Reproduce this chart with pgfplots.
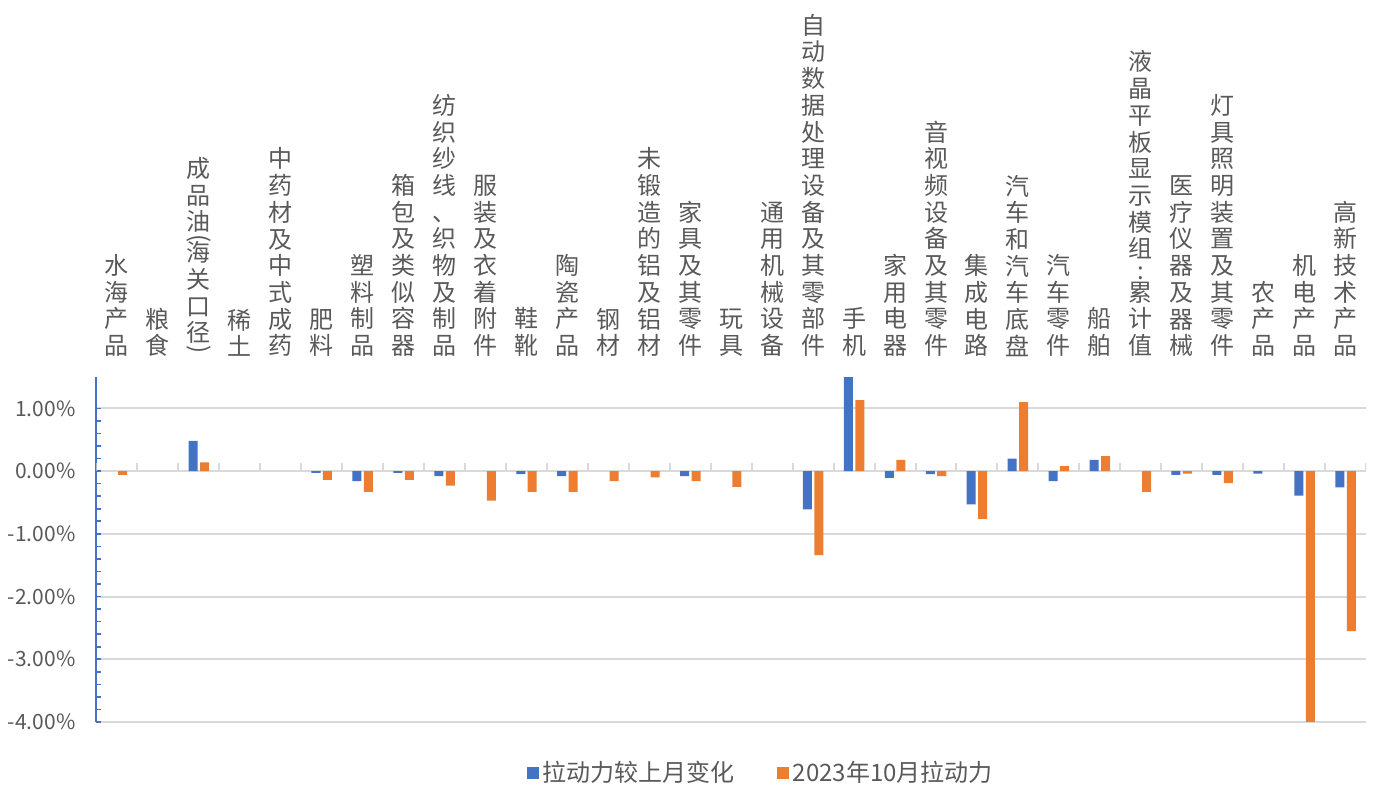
\documentclass[border=0pt]{standalone}
\usepackage{fontspec}
\setmainfont{Noto Sans CJK SC}
\usepackage{graphicx}
\usepackage{pgfplots}
\pgfplotsset{compat=1.18}
\definecolor{cblue}{HTML}{4472C4}
\definecolor{corange}{HTML}{ED7D31}
\definecolor{tgray}{HTML}{595959}
\definecolor{ggray}{HTML}{D9D9D9}
\newcommand{\lp}{\rotatebox[origin=c]{-90}{(}}
\newcommand{\rp}{\rotatebox[origin=c]{-90}{)}}
\begin{document}
\begin{tikzpicture}
\begin{axis}[
  name=ax,
  scale only axis,
  width=634.75pt, height=172.5pt,
  xmin=-0.5, xmax=30.5,
  ymin=-4, ymax=1.5,
  axis x line*=top,
  axis y line*=left,
  x axis line style={draw=none},
  y axis line style={draw=cblue, line width=1pt},
  xtick={0,...,30},
  xtick style={draw=none},
  xticklabels={
    {水\\海\\产\\品},
    {粮\\食},
    {成\\品\\油\\[-5.6pt]\lp\\[-5.6pt]海\\关\\口\\径\\[-6pt]\rp},
    {稀\\土},
    {中\\药\\材\\及\\中\\式\\成\\药},
    {肥\\料},
    {塑\\料\\制\\品},
    {箱\\包\\及\\类\\似\\容\\器},
    {纺\\织\\纱\\线\\、\\织\\物\\及\\制\\品},
    {服\\装\\及\\衣\\着\\附\\件},
    {鞋\\靴},
    {陶\\瓷\\产\\品},
    {钢\\材},
    {未\\锻\\造\\的\\铝\\及\\铝\\材},
    {家\\具\\及\\其\\零\\件},
    {玩\\具},
    {通\\用\\机\\械\\设\\备},
    {自\\动\\数\\据\\处\\理\\设\\备\\及\\其\\零\\部\\件},
    {手\\机},
    {家\\用\\电\\器},
    {音\\视\\频\\设\\备\\及\\其\\零\\件},
    {集\\成\\电\\路},
    {汽\\车\\和\\汽\\车\\底\\盘},
    {汽\\车\\零\\件},
    {船\\舶},
    {液\\晶\\平\\板\\显\\示\\模\\组\\[-2.5pt]:\\[-2.5pt]累\\计\\值},
    {医\\疗\\仪\\器\\及\\器\\械},
    {灯\\具\\照\\明\\装\\置\\及\\其\\零\\件},
    {农\\产\\品},
    {机\\电\\产\\品},
    {高\\新\\技\\术\\产\\品}
  },
  xticklabel style={align=center, anchor=south, inner sep=0pt, yshift=10pt,
    font=\fontsize{12}{13.35}\selectfont, text=tgray},
  ytick={-4,-3,-2,-1,0,1},
  yticklabels={-4.00\%,-3.00\%,-2.00\%,-1.00\%,0.00\%,1.00\%},
  yticklabel style={font=\fontsize{10.5}{12}\selectfont, text=tgray, xshift=-7pt},
  minor y tick num=4,
  tick align=inside,
  major tick length=2.5pt,
  minor tick length=2.5pt,
  ytick style={draw=cblue, line width=0.8pt},
  minor y tick style={draw=cblue, line width=0.8pt},
  ymajorgrids,
  major grid style={draw=ggray, line width=1pt},
  legend columns=2,
  legend style={at={(0.524,-0.148)}, anchor=center, draw=none, fill=none,
    font=\fontsize{12}{14}\selectfont, text=tgray,
    /tikz/every even column/.append style={column sep=19pt}},
  unbounded coords=discard,
  clip=true,
]
\addplot[ybar, bar width=0.22, bar shift=-0.14, fill=cblue, draw=none,
  legend image code/.code={\fill[cblue] (0pt,-3pt) rectangle (6pt,3pt);}]
  table[x=x, y=b] {
x b
0 nan
1 nan
2 0.48
3 nan
4 nan
5 -0.03
6 -0.16
7 -0.03
8 -0.08
9 nan
10 -0.05
11 -0.08
12 nan
13 nan
14 -0.08
15 nan
16 nan
17 -0.61
18 1.55
19 -0.11
20 -0.05
21 -0.53
22 0.20
23 -0.16
24 0.18
25 nan
26 -0.06
27 -0.06
28 -0.04
29 -0.39
30 -0.26
};
\addlegendentry{拉动力较上月变化}
\addplot[ybar, bar width=0.22, bar shift=0.14, fill=corange, draw=none,
  legend image code/.code={\fill[corange] (0pt,-3pt) rectangle (6pt,3pt);}]
  table[x=x, y=o] {
x o
0 -0.06
1 nan
2 0.14
3 nan
4 nan
5 -0.14
6 -0.33
7 -0.14
8 -0.23
9 -0.47
10 -0.33
11 -0.33
12 -0.16
13 -0.10
14 -0.16
15 -0.25
16 nan
17 -1.34
18 1.13
19 0.18
20 -0.08
21 -0.76
22 1.10
23 0.08
24 0.24
25 -0.33
26 -0.04
27 -0.19
28 nan
29 -4.05
30 -2.55
};
\addlegendentry{2023年10月拉动力}
\foreach \i in {0,...,31}{
  \pgfmathsetmacro\xx{\i-0.5}
  \edef\tmp{\noexpand\draw[ggray, line width=1pt] (axis cs:\xx,0) -- ([yshift=4pt]axis cs:\xx,0);}
  \tmp
}
\end{axis}
\path ([xshift=-48.25pt,yshift=-32.5pt]ax.south west) rectangle ([xshift=5pt,yshift=188.5pt]ax.north east);
\end{tikzpicture}
\end{document}
